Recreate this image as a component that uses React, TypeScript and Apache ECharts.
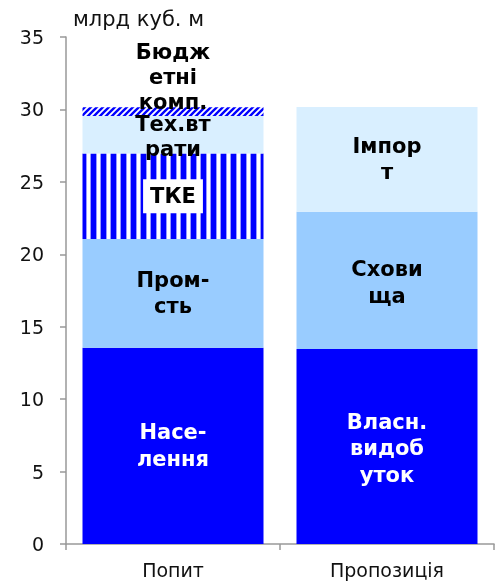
import React, { useEffect, useRef } from 'react';
import * as echarts from 'echarts';

const categories = ['Попит', 'Пропозиція'];
const unitLabel = 'млрд куб. м';

// Попит (demand) layers
const naselennya = [13.55, '-'];
const promst = [7.5, '-'];
const tke = [5.9, '-'];
const tekhVtraty = [2.6, '-'];
const byudzhetni = [0.6, '-'];
// Пропозиція (supply) layers
const vlasnyi = ['-', 13.47];
const skhovyshcha = ['-', 9.46];
const importy = ['-', 7.24];

const FONT = '"DejaVu Sans", Verdana, sans-serif';

function makePattern(kind: 'v' | 'd') {
  const c = document.createElement('canvas');
  const ctx = c.getContext('2d')!;
  if (kind === 'v') {
    c.width = 10;
    c.height = 10;
    ctx.fillStyle = '#ffffff';
    ctx.fillRect(0, 0, 10, 10);
    ctx.fillStyle = '#9999ff';
    ctx.fillRect(0, 0, 1, 10);
    ctx.fillRect(6, 0, 1, 10);
    ctx.fillStyle = '#0000ff';
    ctx.fillRect(1, 0, 5, 10);
    return { image: c.toDataURL(), repeat: 'repeat', imageWidth: 10, imageHeight: 10 };
  }
  const s = 6;
  c.width = s;
  c.height = s;
  ctx.fillStyle = '#ffffff';
  ctx.fillRect(0, 0, s, s);
  ctx.strokeStyle = '#0000ff';
  ctx.lineWidth = 2.4;
  for (let k = 0; k <= 2; k++) {
    ctx.beginPath();
    ctx.moveTo(-1, k * s + 1);
    ctx.lineTo(s + 1, k * s - s - 1);
    ctx.stroke();
  }
  return { image: c.toDataURL(), repeat: 'repeat', imageWidth: s, imageHeight: s };
}

export default function App() {
  const ref = useRef<HTMLDivElement>(null);
  useEffect(() => {
    if (!ref.current) return;
    const chart = echarts.init(ref.current, undefined, { renderer: 'svg' });
    const vPat = makePattern('v');
    const dPat = makePattern('d');

    const lbl = (text: string, color: string, extra: any = {}) => ({
      show: true,
      position: 'inside',
      formatter: text,
      color,
      fontFamily: FONT,
      fontWeight: 'bold',
      fontSize: 21,
      lineHeight: 25,
      align: 'center',
      ...extra,
    });

    const mk = (name: string, data: any[], fill: any, label: any) => ({
      name,
      type: 'bar',
      stack: 'total',
      data,
      barWidth: 181,
      itemStyle: { color: fill },
      label,
      emphasis: { disabled: true },
    });

    chart.setOption({
      animation: false,
      title: {
        text: unitLabel,
        left: 73,
        top: 8,
        padding: 0,
        textStyle: { fontFamily: FONT, fontSize: 21, fontWeight: 'normal', color: '#111' },
      },
      grid: { left: 66, right: 8, top: 37, bottom: 40 },
      xAxis: {
        type: 'category',
        data: categories,
        axisLine: { lineStyle: { color: '#999', width: 1.5 } },
        axisTick: { show: true, length: 6, lineStyle: { color: '#999', width: 1.5 } },
        axisLabel: { fontFamily: FONT, fontSize: 19, color: '#111', margin: 16 },
      },
      yAxis: {
        type: 'value',
        min: 0,
        max: 35,
        interval: 5,
        splitLine: { show: false },
        axisLine: { show: true, lineStyle: { color: '#999', width: 1.5 } },
        axisTick: { show: true, length: 6, lineStyle: { color: '#999', width: 1.5 } },
        axisLabel: { fontFamily: FONT, fontSize: 19, color: '#111', margin: 22 },
      },
      series: [
        mk('Населення', naselennya, '#0000ff', lbl('Насе-\nлення', '#ffffff', { lineHeight: 27 })),
        mk('Пром-сть', promst, '#99ccff', lbl('Пром-\nсть', '#000000', { lineHeight: 26 })),
        mk('ТКЕ', tke, vPat, lbl('ТКЕ', '#000000', { lineHeight: 22, backgroundColor: '#ffffff', padding: [7, 7, 5, 7] })),
        mk('Тех.втрати', tekhVtraty, '#d9efff', lbl('Тех.вт\nрати', '#000000', { offset: [0, 2] })),
        mk('Бюджетні комп.', byudzhetni, dPat, lbl('Бюдж\nетні\nкомп.', '#000000', { offset: [0, -35] })),
        mk('Власн. видобуток', vlasnyi, '#0000ff', lbl('Власн.\nвидоб\nуток', '#ffffff', { lineHeight: 26.5, offset: [0, 2] })),
        mk('Сховища', skhovyshcha, '#99ccff', lbl('Схови\nща', '#000000', { lineHeight: 27, offset: [0, 2] })),
        mk('Імпорт', importy, '#d9efff', lbl('Імпор\nт', '#000000', { lineHeight: 26 })),
      ],
    });
    return () => chart.dispose();
  }, []);
  return <div ref={ref} style={{ position: 'fixed', left: 0, top: 0, width: 502, height: 584 }} />;
}
